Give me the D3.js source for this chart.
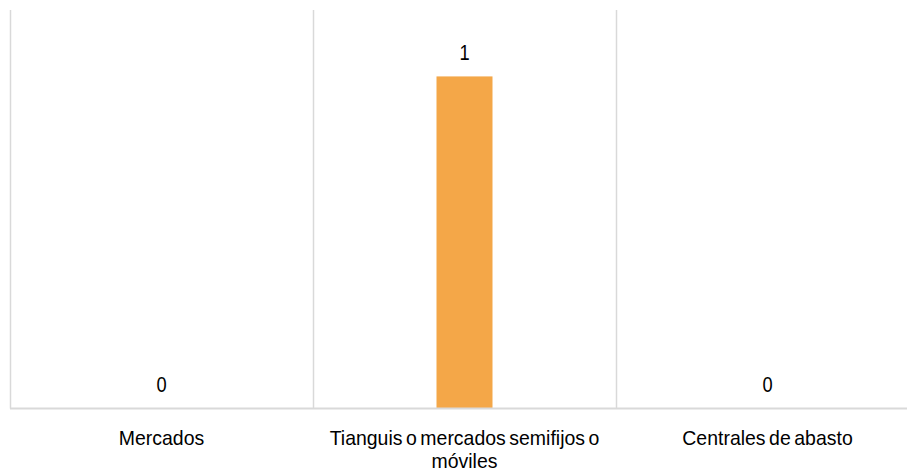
<!DOCTYPE html>
<html><head><meta charset="utf-8">
<script src="https://cdn.jsdelivr.net/npm/d3@7"></script>
<style>
html,body{margin:0;padding:0;background:#fff;}
svg{display:block;}
text{font-family:"Liberation Sans",Arial,sans-serif;fill:#000;}
</style></head>
<body>
<svg id="chart" width="907" height="474"></svg>
<script>
const categories = ["Mercados", "Tianguis o mercados semifijos o móviles", "Centrales de abasto"];
const values = [0, 1, 0];
const wrappedLabels = [["Mercados"], ["Tianguis o mercados semifijos o", "móviles"], ["Centrales de abasto"]];

const svg = d3.select("#chart");
const plotLeft = 10, plotRight = 919, plotTop = 10, plotBottom = 408.5;

const x = d3.scaleBand().domain(categories).range([plotLeft, plotRight]).paddingInner(0).paddingOuter(0);
const y = d3.scaleLinear().domain([0, 1.2]).range([plotBottom, plotTop]);

// vertical separators
const seps = d3.range(categories.length + 1).map(i => plotLeft + i * x.step());
svg.append("g").selectAll("line").data(seps).join("line")
  .attr("x1", d => Math.round(d) + 0.5).attr("x2", d => Math.round(d) + 0.5)
  .attr("y1", plotTop).attr("y2", plotBottom)
  .attr("stroke", "#d9d9d9").attr("stroke-width", 1.5);

// bars
const barW = 56;
svg.append("g").selectAll("rect").data(values).join("rect")
  .attr("x", (d, i) => x(categories[i]) + x.bandwidth() / 2 - barW / 2)
  .attr("width", barW)
  .attr("y", d => y(d))
  .attr("height", d => y(0) - y(d))
  .attr("fill", "#f4a748");

// baseline axis
svg.append("line").attr("x1", plotLeft).attr("x2", 907)
  .attr("y1", plotBottom).attr("y2", plotBottom)
  .attr("stroke", "#d9d9d9").attr("stroke-width", 2);

// value labels
svg.append("g").selectAll("text").data(values).join("text")
  .attr("transform", (d, i) => `translate(${x(categories[i]) + x.bandwidth() / 2},${y(d) - 16.5}) scale(0.85,1)`)
  .attr("text-anchor", "middle")
  .attr("font-size", "21.5px")
  .text(d => d);

// category labels
const lab = svg.append("g").selectAll("text").data(categories).join("text")
  .attr("text-anchor", "middle")
  .attr("font-size", "20.5px")
  .attr("word-spacing", "-2px")
  .attr("transform", d => `translate(${x(d) + x.bandwidth() / 2},445) scale(0.95,1)`);
lab.each(function(d, i) {
  const t = d3.select(this);
  wrappedLabels[i].forEach((line, j) => {
    t.append("tspan").attr("x", 0).attr("dy", j === 0 ? 0 : 23).text(line);
  });
});
</script>
</body></html>
